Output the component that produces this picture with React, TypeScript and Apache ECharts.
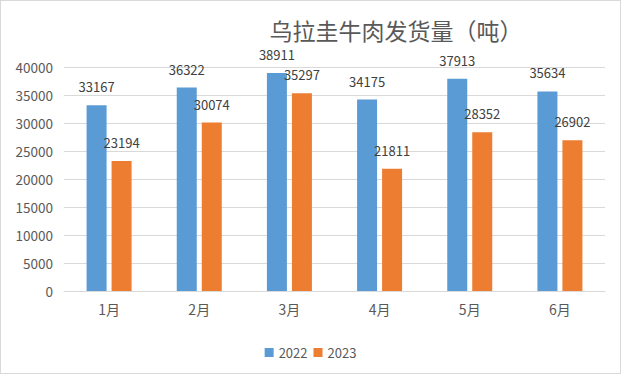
import React, { useEffect, useRef } from "react";
import * as echarts from "echarts";

const categories = ["1月", "2月", "3月", "4月", "5月", "6月"];
const series2022 = [33167, 36322, 38911, 34175, 37913, 35634];
const series2023 = [23194, 30074, 35297, 21811, 28352, 26902];
const seriesNames = ["2022", "2023"];
const titleText = "乌拉圭牛肉发货量（吨）";

const FONT = "'Noto Sans CJK SC', 'Noto Sans', sans-serif";

export default function App() {
  const ref = useRef<HTMLDivElement>(null);
  useEffect(() => {
    if (!ref.current) return;
    const chart = echarts.init(ref.current, undefined, { renderer: "svg" });
    const labelStyle = {
      show: true,
      position: "top" as const,
      distance: 12,
      color: "#404040",
      fontSize: 13,
      fontFamily: FONT,
    };
    chart.setOption({
      animation: false,
      backgroundColor: "#ffffff",
      title: {
        text: titleText,
        left: 390,
        top: 12,
        textAlign: "center",
        textStyle: { color: "#595959", fontSize: 23, fontWeight: "normal", fontFamily: FONT },
      },
      legend: {
        data: seriesNames,
        left: "center",
        top: 340,
        itemWidth: 9,
        itemHeight: 9,
        itemGap: 6,
        icon: "rect",
        textStyle: { color: "#595959", fontSize: 13, fontFamily: FONT },
      },
      grid: { left: 63, right: 15, top: 66, bottom: 82, containLabel: false },
      xAxis: {
        type: "category",
        data: categories,
        axisLine: { show: true, lineStyle: { color: "#d9d9d9", width: 1 } },
        axisTick: { show: false },
        axisLabel: { color: "#595959", fontSize: 14, fontFamily: FONT, margin: 11 },
      },
      yAxis: {
        type: "value",
        min: 0,
        max: 40000,
        interval: 5000,
        axisLine: { show: false },
        axisTick: { show: false },
        splitLine: { lineStyle: { color: "#d9d9d9", width: 1 } },
        axisLabel: {
          color: "#595959",
          fontSize: 13.5,
          fontFamily: FONT,
          margin: 11,
          formatter: (v: number) => String(v),
        },
      },
      series: [
        {
          name: seriesNames[0],
          type: "bar",
          data: series2022,
          barWidth: 20,
          barGap: "25%",
          itemStyle: { color: "#5B9BD5" },
          label: labelStyle,
        },
        {
          name: seriesNames[1],
          type: "bar",
          data: series2023,
          barWidth: 20,
          barGap: "25%",
          itemStyle: { color: "#ED7D31" },
          label: labelStyle,
        },
      ],
    });
    return () => chart.dispose();
  }, []);
  return (
    <div
      style={{
        position: "fixed",
        left: 0,
        top: 0,
        width: 621,
        height: 374,
        boxSizing: "border-box",
        border: "1px solid #d9d9d9",
        background: "#fff",
      }}
    >
      <div ref={ref} style={{ width: 619, height: 372 }} />
    </div>
  );
}
